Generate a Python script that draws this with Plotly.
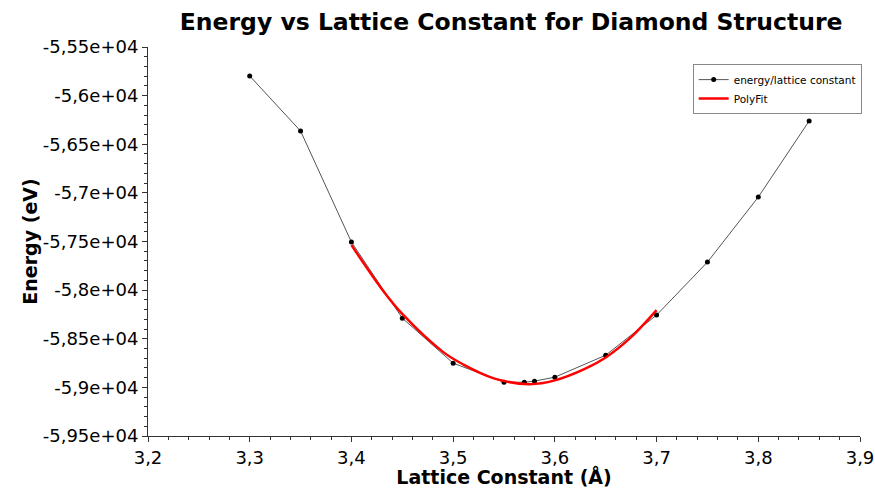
import plotly.graph_objects as go

# Total energy per lattice constant (diamond structure)
lattice_a = [3.30, 3.35, 3.40, 3.45, 3.50, 3.55, 3.57, 3.58, 3.60, 3.65, 3.70, 3.75, 3.80, 3.85]
energy_ev = [-55798, -56364, -57506, -58288, -58751, -58947, -58947, -58936, -58895, -58669,
             -58257, -57712, -57043, -56261]

# Polynomial fit curve sampled over the fitting window
fit_a = [3.40, 3.43, 3.45, 3.49, 3.51, 3.54, 3.575, 3.60, 3.63, 3.65, 3.675, 3.70]
fit_e = [-57537, -57990, -58245, -58635, -58765, -58907, -58967, -58928, -58808, -58692,
         -58483, -58206]

x_ticks = [3.2, 3.3, 3.4, 3.5, 3.6, 3.7, 3.8, 3.9]
x_labels = ["3,2", "3,3", "3,4", "3,5", "3,6", "3,7", "3,8", "3,9"]
y_ticks = [-55500, -56000, -56500, -57000, -57500, -58000, -58500, -59000, -59500]
y_labels = ["-5,55e+04", "-5,6e+04", "-5,65e+04", "-5,7e+04", "-5,75e+04",
            "-5,8e+04", "-5,85e+04", "-5,9e+04", "-5,95e+04"]

FONT = "DejaVu Sans"

fig = go.Figure()
fig.add_trace(go.Scatter(
    x=lattice_a, y=energy_ev, mode="lines+markers",
    name="energy/lattice constant",
    line=dict(color="#555555", width=1),
    marker=dict(color="black", size=5),
))
fig.add_trace(go.Scatter(
    x=fit_a, y=fit_e, mode="lines", name="PolyFit",
    line=dict(color="#ff0000", width=2.5, shape="spline", smoothing=1.0),
))

axis_common = dict(
    showgrid=False, zeroline=False, showline=True, linecolor="#333333", linewidth=1,
    ticks="outside", ticklen=5, tickcolor="#333333", automargin=False,
    tickfont=dict(family=FONT, size=18, color="black"),
)

fig.update_xaxes(
    range=[3.2, 3.9], tickvals=x_ticks, ticktext=x_labels,
    minor=dict(ticks="outside", dtick=0.02, tick0=3.2, ticklen=3, tickcolor="#333333"),
    title=dict(text="<b>Lattice Constant (Å)</b>", font=dict(family=FONT, size=19, color="black"),
               standoff=0),
    **axis_common,
)
fig.update_yaxes(
    range=[-59500, -55500], tickvals=y_ticks, ticktext=y_labels,
    minor=dict(ticks="outside", dtick=100, tick0=-59500, ticklen=3, tickcolor="#333333"),
    title=dict(text="<b>Energy (eV)</b>", font=dict(family=FONT, size=19, color="black"),
               standoff=0),
    **axis_common,
)

fig.update_layout(
    width=875, height=488,
    margin=dict(l=148, r=15, t=47, b=52),
    paper_bgcolor="white", plot_bgcolor="white",
    title=dict(text="<b>Energy vs Lattice Constant for Diamond Structure</b>",
               x=0.51, xref="paper", xanchor="center", y=0.955, yanchor="middle",
               font=dict(family=FONT, size=23.5, color="black")),
    legend=dict(x=0.765, y=0.956, xanchor="left", yanchor="top",
                bgcolor="white", bordercolor="#888888", borderwidth=1,
                font=dict(family=FONT, size=10.5, color="black"),
                itemwidth=30, tracegroupgap=0),
    showlegend=True,
)

fig.write_html("out.html")
